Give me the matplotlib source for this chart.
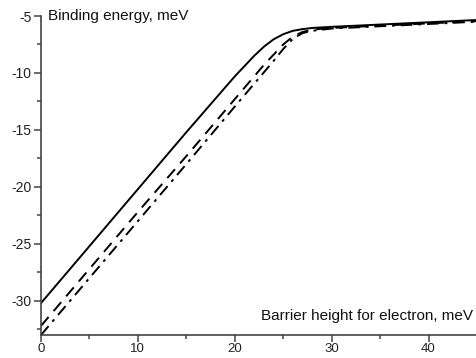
import numpy as np
import matplotlib
matplotlib.use('Agg')
import matplotlib.pyplot as plt
from matplotlib.ticker import MultipleLocator

plt.rcParams['font.family'] = ['Liberation Sans', 'DejaVu Sans']
plt.rcParams['axes.unicode_minus'] = False

# barrier height (meV)
x = [0, 5, 10, 15, 20, 22, 23, 24, 25, 26, 27, 28, 30, 35, 40, 45]
# binding energies (meV)
solid = [-30.2, -25.2, -20.2, -15.2, -10.3, -8.5, -7.7, -7.05, -6.6, -6.3,
         -6.15, -6.05, -5.95, -5.75, -5.55, -5.35]
dashed = [-32.2, -27.2, -22.2, -17.3, -12.3, -10.3, -9.3, -8.4, -7.5, -6.8,
          -6.4, -6.2, -6.05, -5.85, -5.65, -5.45]
dashdot = [-33.0, -28.0, -23.0, -18.0, -12.95, -10.95, -9.95, -8.95, -7.9, -7.0,
           -6.5, -6.3, -6.1, -5.9, -5.7, -5.5]

fig = plt.figure(figsize=(4.77, 3.58), dpi=100)
ax = fig.add_axes([41/477, 23/358, 436/477, 319/358])

ax.plot(x, solid, color='black', lw=1.4, ls='-')
ax.plot(x, dashed, color='black', lw=1.4, dashes=(6, 4))
ax.plot(x, dashdot, color='black', lw=1.4, dashes=(6, 3, 1.5, 3))

ax.set_xlim(0, 45)
ax.set_ylim(-33, -5)
ax.xaxis.set_major_locator(MultipleLocator(10))
ax.xaxis.set_minor_locator(MultipleLocator(5))
ax.yaxis.set_major_locator(MultipleLocator(5))
ax.yaxis.set_minor_locator(MultipleLocator(2.5))

for s in ['top', 'right']:
    ax.spines[s].set_visible(False)
for s in ['left', 'bottom']:
    ax.spines[s].set_color('#444444')
    ax.spines[s].set_linewidth(1.2)

ax.tick_params(which='major', direction='out', length=5, width=1.1,
               color='#444444', labelsize=10, labelcolor='#222222', pad=2)
ax.tick_params(axis='x', which='major', labelsize=9.5, pad=1)
ax.tick_params(which='minor', direction='out', length=3, width=1.1, color='#444444')

ax.text(0.017, 1.0, 'Binding energy, meV', transform=ax.transAxes,
        ha='left', va='center', fontsize=11, color='#111111')
ax.text(0.99, 0.06, 'Barrier height for electron, meV', transform=ax.transAxes,
        ha='right', va='center', fontsize=11, color='#111111')

fig.savefig('out.png', dpi=100)
